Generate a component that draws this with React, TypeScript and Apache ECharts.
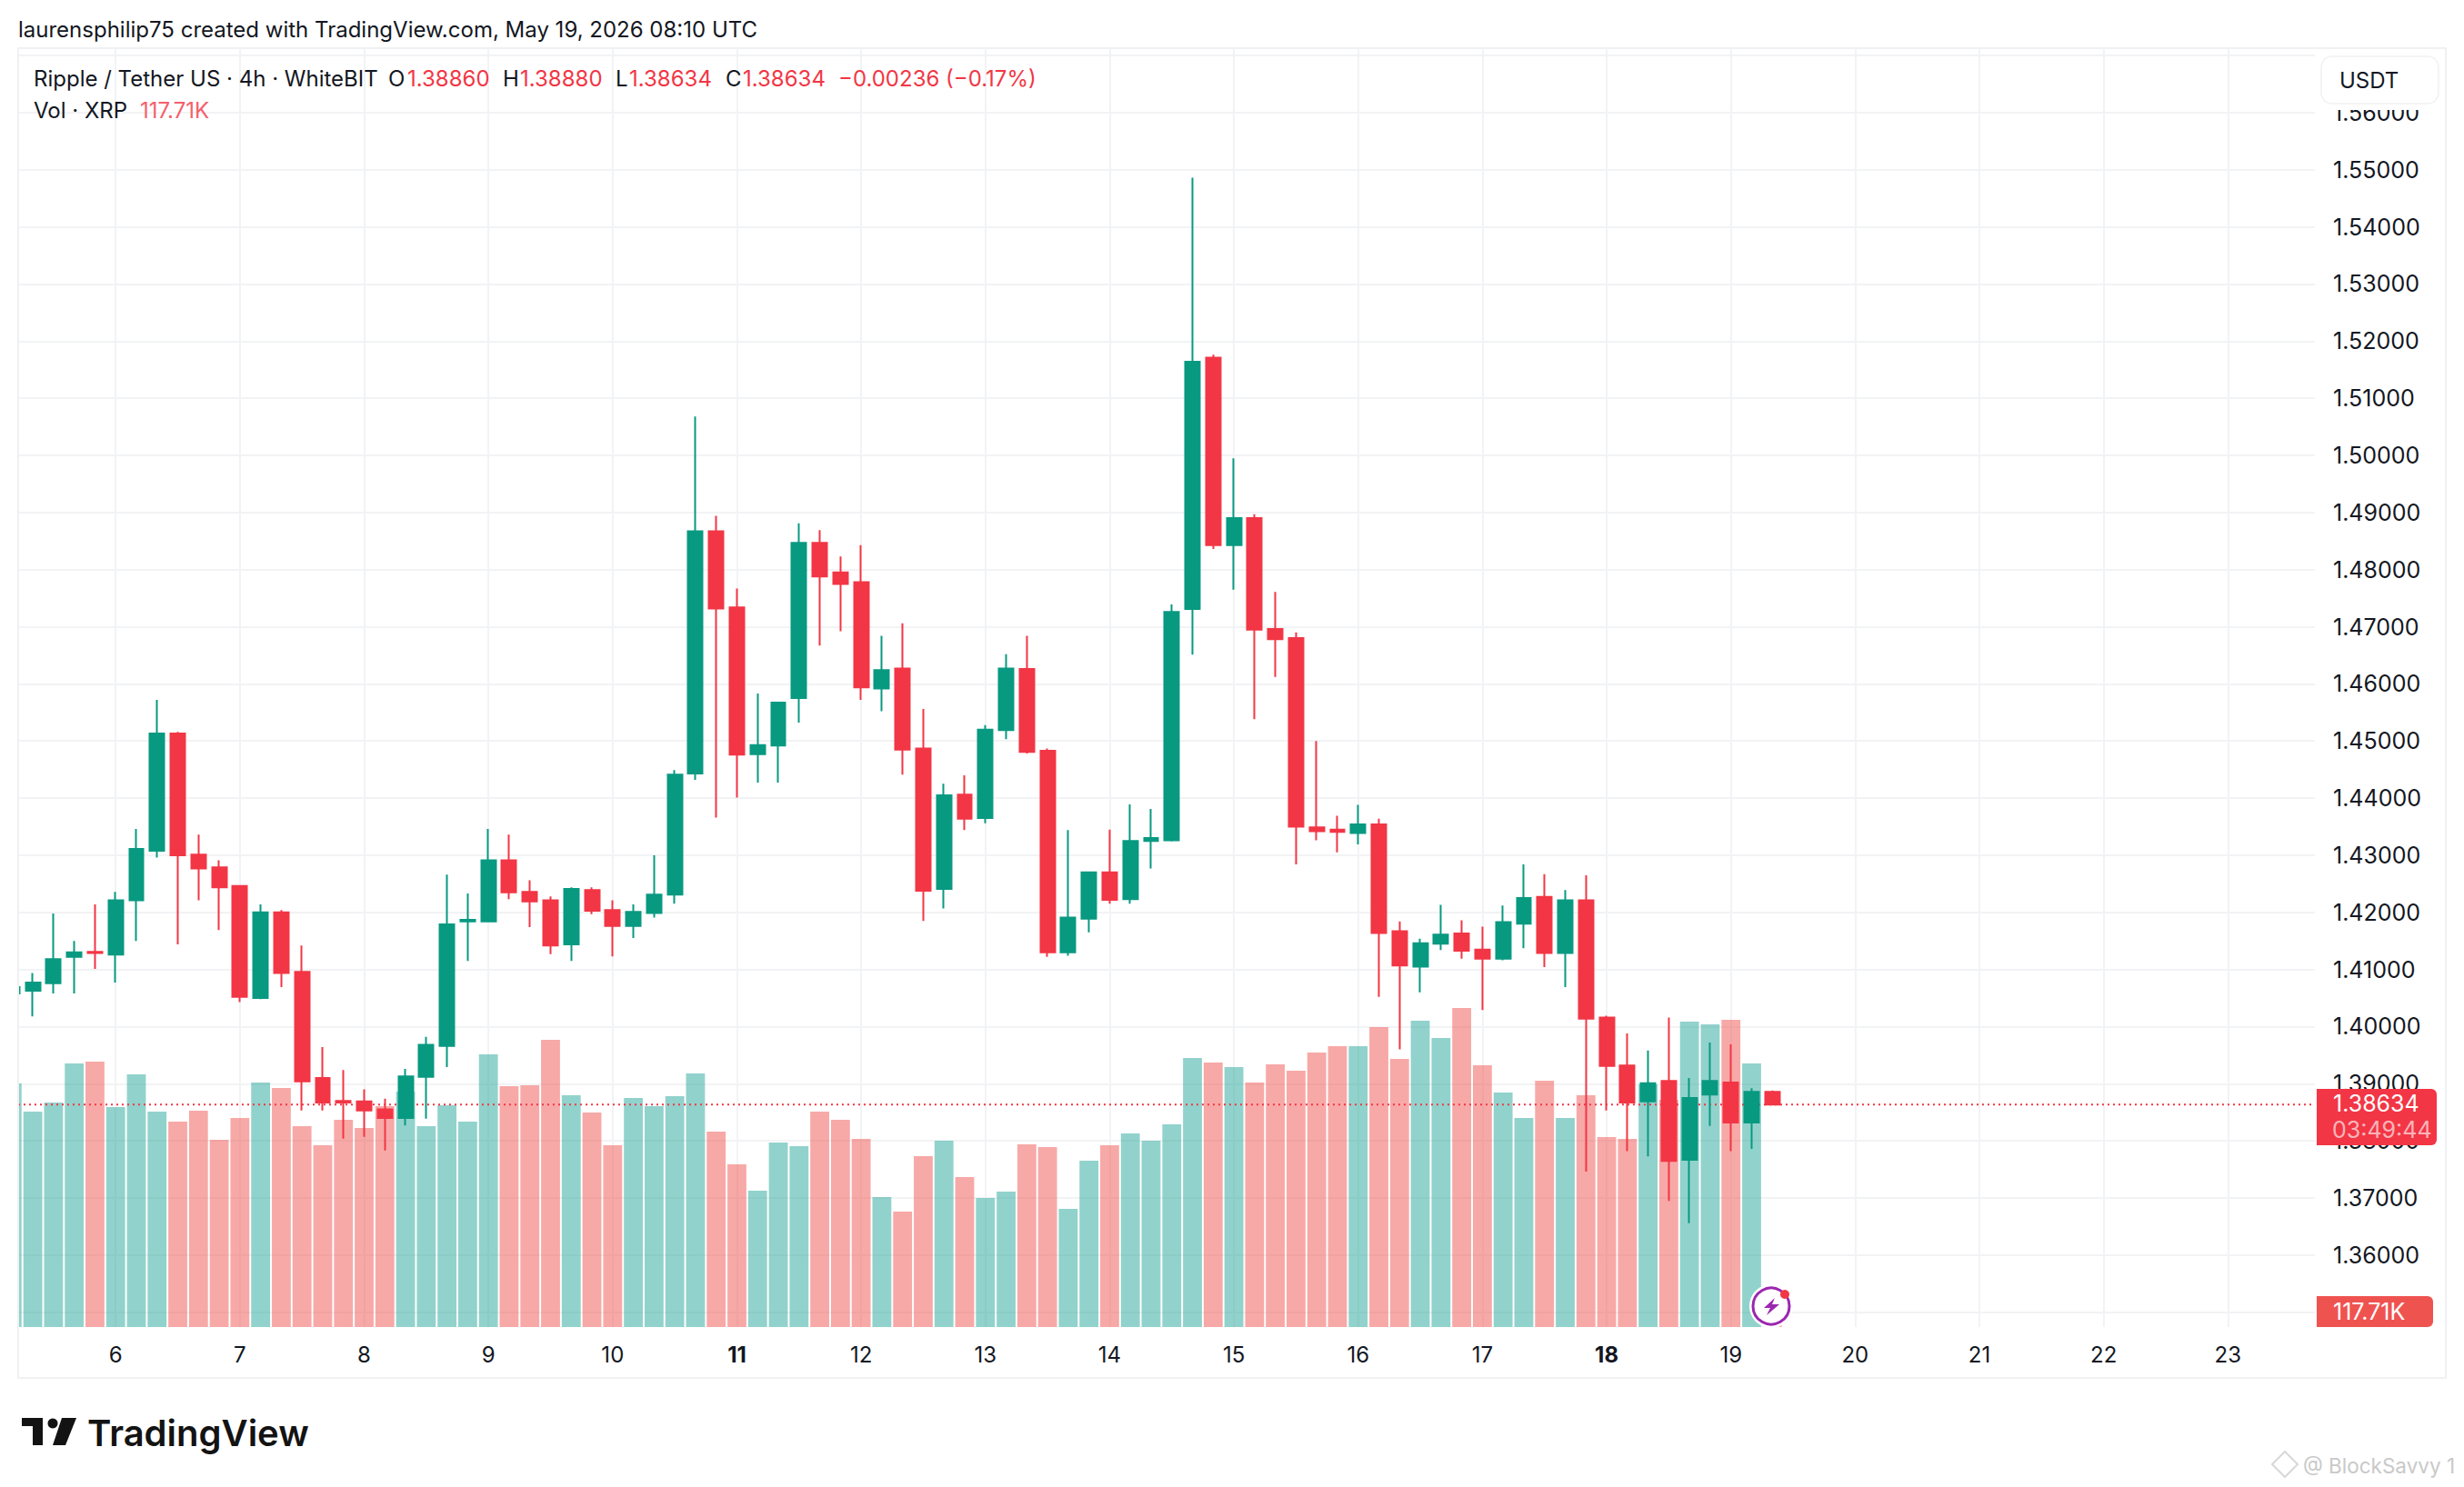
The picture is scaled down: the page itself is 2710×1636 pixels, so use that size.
import React, { useEffect, useRef } from "react";
import * as echarts from "echarts";

const opens = [1.4058,1.4063,1.4076,1.4122,1.4131,1.4126,1.4221,1.4308,1.4513,1.4301,1.4279,1.4246,1.4050,1.4200,1.4096,1.3910,1.3870,1.3869,1.3855,1.3840,1.3912,1.3966,1.4184,1.4184,1.4291,1.4236,1.4221,1.4144,1.4239,1.4204,1.4176,1.4199,1.4231,1.4443,1.4867,1.4734,1.4477,1.4492,1.4575,1.4847,1.4795,1.4778,1.4592,1.4627,1.4487,1.4241,1.4406,1.4365,1.4519,1.4626,1.4483,1.4130,1.4189,1.4270,1.4223,1.4325,1.4326,1.4731,1.5171,1.4843,1.4890,1.4696,1.4680,1.4349,1.4345,1.4339,1.4354,1.4167,1.4105,1.4145,1.4163,1.4135,1.4119,1.4180,1.4227,1.4129,1.4221,1.4016,1.3932,1.3869,1.3905,1.3767,1.3881,1.3902,1.3832,1.3886];
const highs = [1.4075,1.4094,1.4198,1.4150,1.4214,1.4236,1.4346,1.4572,1.4516,1.4336,1.4291,1.4246,1.4214,1.4204,1.4142,1.3964,1.3924,1.3890,1.3874,1.3926,1.3982,1.4266,1.4233,1.4346,1.4336,1.4256,1.4228,1.4244,1.4244,1.4221,1.4214,1.4300,1.4449,1.5068,1.4894,1.4767,1.4583,1.4567,1.4881,1.4869,1.4823,1.4843,1.4684,1.4706,1.4556,1.4425,1.4440,1.4528,1.4652,1.4684,1.4487,1.4344,1.4270,1.4345,1.4389,1.4381,1.4739,1.5486,1.5176,1.4995,1.4897,1.4761,1.4690,1.4500,1.4369,1.4388,1.4364,1.4184,1.4154,1.4213,1.4186,1.4175,1.4212,1.4284,1.4267,1.4239,1.4265,1.4019,1.3988,1.3958,1.4016,1.3910,1.3972,1.3969,1.3892,1.3888];
const lows = [1.4055,1.4018,1.4058,1.4058,1.4101,1.4077,1.4150,1.4296,1.4144,1.4221,1.4169,1.4043,1.4048,1.4069,1.3853,1.3853,1.3804,1.3807,1.3783,1.3827,1.3839,1.3929,1.4115,1.4184,1.4223,1.4174,1.4127,1.4115,1.4197,1.4123,1.4155,1.4191,1.4215,1.4432,1.4366,1.4401,1.4427,1.4427,1.4532,1.4667,1.4692,1.4572,1.4552,1.4441,1.4185,1.4207,1.4344,1.4356,1.4503,1.4478,1.4122,1.4124,1.4165,1.4215,1.4215,1.4277,1.4324,1.4651,1.4836,1.4765,1.4538,1.4612,1.4284,1.4326,1.4305,1.4319,1.4052,1.3960,1.4060,1.4134,1.4119,1.4029,1.4116,1.4137,1.4104,1.4069,1.3746,1.3853,1.3782,1.3773,1.3695,1.3656,1.3826,1.3782,1.3786,1.38634];
const closes = [1.4069,1.4077,1.4118,1.4130,1.4129,1.4221,1.4311,1.4513,1.4300,1.4277,1.4244,1.4052,1.4200,1.4094,1.3904,1.3867,1.3867,1.3853,1.3840,1.3913,1.3968,1.4179,1.4187,1.4291,1.4235,1.4219,1.4142,1.4241,1.4203,1.4176,1.4201,1.4231,1.4441,1.4867,1.4732,1.4476,1.4493,1.4567,1.4847,1.4788,1.4775,1.4594,1.4624,1.4485,1.4238,1.4405,1.4364,1.4520,1.4627,1.4481,1.4130,1.4191,1.4270,1.4222,1.4325,1.4330,1.4726,1.5164,1.4843,1.4890,1.4695,1.4678,1.4350,1.4342,1.4341,1.4354,1.4164,1.4107,1.4146,1.4161,1.4133,1.4119,1.4183,1.4225,1.4129,1.4221,1.4014,1.3931,1.3867,1.3901,1.3765,1.3875,1.3905,1.3832,1.3886,1.38634];
const volumesK = [10720,9480,9880,11600,11680,9680,11120,9480,9040,9520,8240,9200,10760,10520,8840,8000,9120,8760,9720,10360,8840,9760,9040,12000,10600,10640,12640,10200,9440,8000,10080,9720,10160,11160,8600,7160,6000,8120,7960,9480,9120,8280,5720,5080,7520,8200,6600,5680,5960,8040,7920,5200,7320,8000,8520,8200,8920,11840,11640,11440,10760,11560,11280,12080,12360,12360,13200,11800,13480,12720,14040,11520,10320,9200,10840,9200,10200,8360,8280,10680,10000,13440,13320,13520,11600,117.71];
const dayTicks = [6,7,8,9,10,11,12,13,14,15,16,17,18,19,20,21,22,23];
const boldDays = [11,18];
const priceLabels = [1.36,1.37,1.38,1.39,1.40,1.41,1.42,1.43,1.44,1.45,1.46,1.47,1.48,1.49,1.50,1.51,1.52,1.53,1.54,1.55,1.56];
const priceGrid = [1.35,...priceLabels,1.57];
const FIRST_DAY = 5 + 1 / 6;
const BARS_PER_DAY = 6;
const LAST_PRICE = 1.38634;
const X_MIN = 5.2155;
const X_MAX = 23.7;

const GREEN = "#089981";
const RED = "#F23645";
const INK = "#131722";
const FONT = "Inter, 'Noto Sans', sans-serif";

const barDays = opens.map((_, i) => FIRST_DAY + i / BARS_PER_DAY);

function label(text: string, x: number, y: number, fill = INK, fontSize = 24, extra: any = {}) {
  return {
    type: "text",
    x,
    y,
    z: 200,
    silent: true,
    style: { text, fill, fontSize, fontFamily: FONT, textVerticalAlign: "middle", ...extra },
  };
}

export default function App() {
  const ref = useRef<HTMLDivElement>(null);

  useEffect(() => {
    const chart = echarts.init(ref.current!, undefined, { renderer: "svg" });
    const gridLine = { show: true, lineStyle: { color: "#F2F3F5", width: 2 } };
    chart.setOption({
      animation: false,
      backgroundColor: "#ffffff",
      textStyle: { fontFamily: FONT },
      grid: { left: 20, right: 164, top: 53, bottom: 176, containLabel: false },
      xAxis: {
        type: "value",
        min: X_MIN,
        max: X_MAX,
        axisLine: { show: false },
        axisTick: { show: false, customValues: dayTicks },
        splitLine: gridLine,
        axisLabel: {
          customValues: dayTicks,
          margin: 18,
          color: INK,
          fontSize: 24,
          fontFamily: FONT,
          hideOverlap: false,
          formatter: (v: number) => (boldDays.includes(Math.round(v)) ? `{b|${Math.round(v)}}` : `${Math.round(v)}`),
          rich: { b: { fontWeight: 700, fontSize: 24, color: INK, fontFamily: FONT } },
        },
      },
      yAxis: [
        {
          type: "value",
          position: "right",
          min: 1.34741,
          max: 1.57128,
          scale: true,
          axisLine: { show: false },
          axisTick: { show: false, customValues: priceGrid },
          splitLine: gridLine,
          axisLabel: {
            customValues: priceLabels,
            margin: 20,
            color: INK,
            fontSize: 25,
            fontFamily: FONT,
            showMinLabel: true,
            showMaxLabel: true,
            formatter: (v: number) => v.toFixed(5),
          },
        },
        { type: "value", min: 0, max: 56280, show: false, splitLine: { show: false } },
      ],
      series: [
        {
          type: "bar",
          name: "Vol",
          yAxisIndex: 1,
          barWidth: 20.8,
          clip: true,
          z: 1,
          silent: true,
          data: volumesK.map((v, i) => ({
            value: [barDays[i], v],
            itemStyle: { color: closes[i] >= opens[i] ? "rgba(38,166,154,0.5)" : "rgba(239,83,80,0.5)" },
          })),
        },
        {
          type: "line",
          name: "Last",
          z: 2,
          silent: true,
          showSymbol: false,
          symbol: "none",
          lineStyle: { color: RED, width: 2, type: [2, 4] },
          data: [[X_MIN, LAST_PRICE], [X_MAX, LAST_PRICE]],
        },
        {
          type: "candlestick",
          name: "XRPUSDT",
          z: 3,
          silent: true,
          barWidth: 16.4,
          clip: true,
          itemStyle: { color: GREEN, color0: RED, borderColor: GREEN, borderColor0: RED, borderWidth: 2 },
          encode: { x: 0, y: [1, 2, 3, 4] },
          data: opens.map((o, i) => [barDays[i], o, closes[i], lows[i], highs[i]]),
        },
      ],
      graphic: {
        elements: [
          { type: "rect", z: 149, silent: true, shape: { x: 0, y: 53, width: 20, height: 1407 }, style: { fill: "#ffffff" } },
          { type: "rect", z: 150, silent: true, shape: { x: 20, y: 53, width: 2670, height: 1463 }, style: { fill: "none", stroke: "#F0F1F3", lineWidth: 2 } },
          label("laurensphilip75 created with TradingView.com, May 19, 2026 08:10 UTC", 20, 32),
          label("Ripple / Tether US · 4h · WhiteBIT", 37, 86),
          label("O", 427, 86),
          label("1.38860", 448, 86, RED),
          label("H", 553, 86),
          label("1.38880", 572, 86, RED),
          label("L", 677, 86),
          label("1.38634", 692, 86, RED),
          label("C", 798, 86),
          label("1.38634", 817, 86, RED),
          label("−0.00236 (−0.17%)", 922, 86, RED),
          label("Vol · XRP", 37, 121),
          label("117.71K", 154, 121, "#F4606B"),
          { type: "rect", z: 189, silent: true, shape: { x: 2550, y: 62, width: 134, height: 59 }, style: { fill: "#ffffff" } },
          { type: "rect", z: 190, silent: true, shape: { x: 2553, y: 62, width: 129, height: 52, r: 12 }, style: { fill: "#ffffff", stroke: "#F0F1F3", lineWidth: 1.5 } },
          label("USDT", 2573, 88),
          { type: "rect", z: 190, silent: true, shape: { x: 2548, y: 1198, width: 132, height: 62, r: [0, 6, 6, 0] }, style: { fill: RED } },
          label("1.38634", 2566, 1214, "#ffffff", 25),
          label("03:49:44", 2565, 1243, "rgba(255,255,255,0.65)", 25),
          { type: "rect", z: 190, silent: true, shape: { x: 2548, y: 1426, width: 128, height: 34, r: [0, 6, 6, 0] }, style: { fill: "#EF5350" } },
          label("117.71K", 2566, 1443, "#ffffff", 25),
          { type: "circle", z: 180, silent: true, shape: { cx: 1948, cy: 1437, r: 24 }, style: { fill: "#ffffff" } },
          { type: "circle", z: 181, silent: true, shape: { cx: 1948, cy: 1437, r: 20 }, style: { fill: "#ffffff", stroke: "#9C27B0", lineWidth: 3 } },
          { type: "polygon", z: 182, silent: true, shape: { points: [[1952, 1428], [1940, 1439], [1947, 1439], [1943, 1447], [1957, 1435], [1949, 1435]] }, style: { fill: "#9C27B0" } },
          { type: "circle", z: 183, silent: true, shape: { cx: 1963, cy: 1424, r: 5 }, style: { fill: RED } },
          { type: "polygon", z: 100, silent: true, shape: { points: [[24, 1560], [47, 1560], [47, 1590], [36, 1590], [36, 1569], [24, 1569]] }, style: { fill: "#131313" } },
          { type: "circle", z: 100, silent: true, shape: { cx: 58, cy: 1566, r: 5.5 }, style: { fill: "#131313" } },
          { type: "polygon", z: 100, silent: true, shape: { points: [[68, 1560], [84, 1560], [72, 1590], [58, 1590]] }, style: { fill: "#131313" } },
          label("TradingView", 96, 1576, "#131313", 40, { fontWeight: 600 }),
          { type: "polygon", z: 100, silent: true, shape: { points: [[2513, 1597], [2527, 1611], [2513, 1625], [2499, 1611]] }, style: { fill: "none", stroke: "#D8D8D8", lineWidth: 2 } },
          label("@ BlockSavvy 1", 2533, 1612, "#C9C9C9", 22.5),
        ],
      },
    });
    return () => chart.dispose();
  }, []);

  return <div ref={ref} style={{ position: "absolute", left: 0, top: 0, width: 2710, height: 1636 }} />;
}
